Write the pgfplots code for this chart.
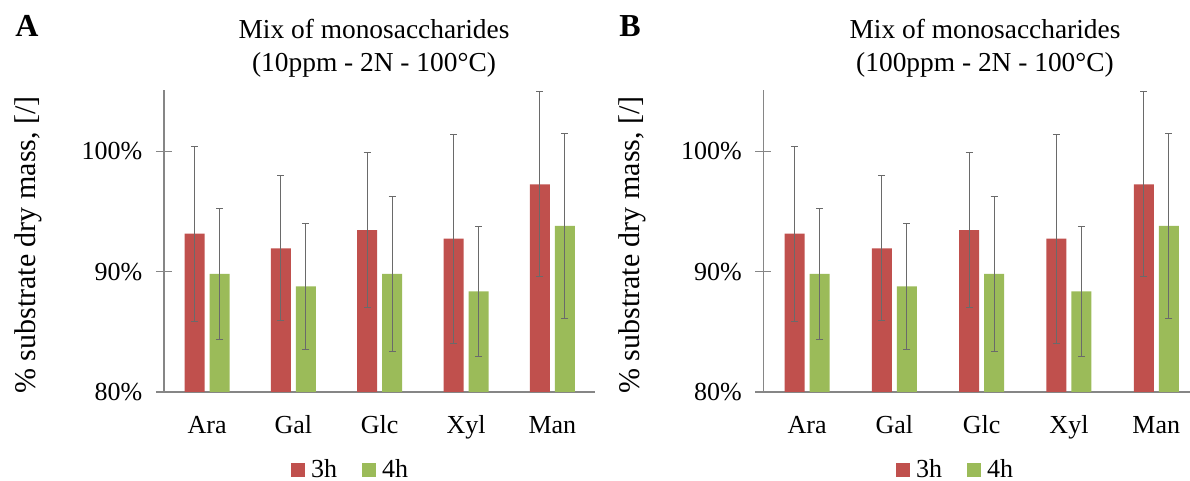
\documentclass[border=0pt]{standalone}
\usepackage{fontspec}
\setmainfont{Liberation Serif}
\usepackage{pgfplots}
\usepackage{pgfplotstable}
\pgfplotsset{compat=1.18}
\definecolor{barred}{HTML}{C0504D}
\definecolor{bargreen}{HTML}{9BBB59}
\definecolor{axgray}{HTML}{868686}
\definecolor{errgray}{HTML}{6A6A6A}

\pgfplotstableread{
x v3 e3 v4 e4
0 93.16 7.27 89.81 5.44
1 91.94 6.03 88.78 5.24
2 93.46 6.41 89.81 6.45
3 92.74 8.70 88.37 5.40
4 97.26 7.69 93.80 7.70
}\datatable

\pgfplotsset{
  panel/.style={
    scale only axis, height=151pt, anchor=south west,
    ymin=80, ymax=105.1, xmin=-0.5,
    axis x line*=bottom, axis y line*=left,
    axis line style={draw=axgray, line width=0.65pt},
    ytick={80,90,100}, yticklabels={80\%,90\%,100\%},
    ytick align=center, major tick length=8pt,
    ytick style={draw=axgray, line width=0.65pt},
    xtick={0,1,2,3,4}, xticklabels={Ara,Gal,Glc,Xyl,Man},
    xtick style={draw=none},
    ticklabel style={font=\fontsize{13}{15}\selectfont},
    yticklabel style={xshift=-3.3pt},
    xticklabel style={anchor=base, yshift=-13pt},
    ybar=2.5pt, bar width=10pt,
    legend columns=2,
    legend image code/.code={\fill[#1] (0pt,-3.5pt) rectangle (7pt,3.5pt);},
    legend style={anchor=center, draw=none, fill=none, inner sep=0pt,
      font=\fontsize{13}{14}\selectfont,
      nodes={inner sep=1.5pt},
      /tikz/every odd column/.append style={column sep=1.5pt},
      /tikz/every even column/.append style={column sep=11pt}},
  },
  errs/.style={error bars/.cd, y dir=both, y explicit,
    error bar style={draw=errgray, line width=0.5pt},
    error mark options={rotate=90, draw=errgray, mark size=1.75pt, line width=0.5pt}},
}

\begin{document}
\begin{tikzpicture}
\useasboundingbox (0,0) rectangle (595pt,240.5pt);

% Panel A
\begin{axis}[panel, at={(82pt,44.5pt)}, width=215.75pt, xmax=4.5,
  legend style={at={(0.4334,-0.259)}}]
\addplot[fill=barred, draw=none, errs] table[x=x, y=v3, y error=e3]{\datatable};
\addplot[fill=bargreen, draw=none, errs] table[x=x, y=v4, y error=e4]{\datatable};
\legend{3h,4h}
\end{axis}

% Panel B
\begin{axis}[panel, at={(381.7pt,44.5pt)}, width=213.3pt, xmax=4.386,
  legend style={at={(0.4515,-0.259)}}]
\addplot[fill=barred, draw=none, errs] table[x=x, y=v3, y error=e3]{\datatable};
\addplot[fill=bargreen, draw=none, errs] table[x=x, y=v4, y error=e4]{\datatable};
\legend{3h,4h}
\end{axis}

% Panel letters
\node[font=\bfseries\fontsize{16}{18}\selectfont, anchor=base west, inner sep=0pt] at (7.5pt,222pt) {A};
\node[font=\bfseries\fontsize{16}{18}\selectfont, anchor=base west, inner sep=0pt] at (309.5pt,222pt) {B};

% Titles
\node[font=\fontsize{13.7}{16}\selectfont, anchor=base, inner sep=0pt] at (187pt,221pt) {Mix of monosaccharides};
\node[font=\fontsize{13.7}{16}\selectfont, anchor=base, inner sep=0pt] at (187pt,204.5pt) {(10ppm - 2N - 100°C)};
\node[font=\fontsize{13.7}{16}\selectfont, anchor=base, inner sep=0pt] at (492.5pt,221pt) {Mix of monosaccharides};
\node[font=\fontsize{13.7}{16}\selectfont, anchor=base, inner sep=0pt] at (492.5pt,204.5pt) {(100ppm - 2N - 100°C)};

% Y labels
\node[rotate=90, font=\fontsize{15}{18}\selectfont, inner sep=0pt] at (14pt,118pt) {\% substrate dry mass, [/]};
\node[rotate=90, font=\fontsize{15}{18}\selectfont, inner sep=0pt] at (316pt,118pt) {\% substrate dry mass, [/]};
\end{tikzpicture}
\end{document}
